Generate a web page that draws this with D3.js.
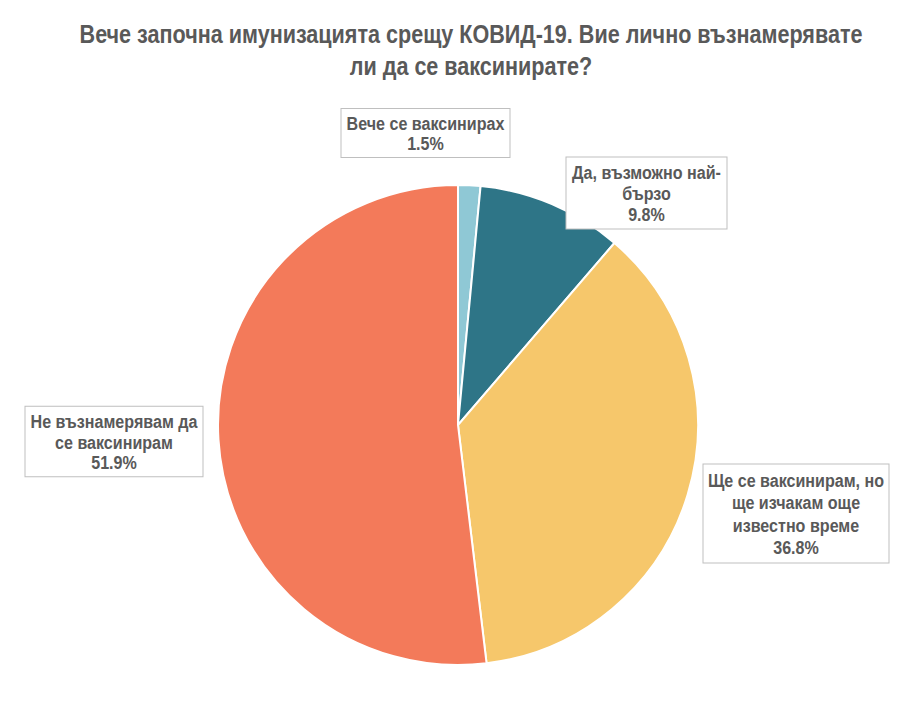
<!DOCTYPE html>
<html>
<head>
<meta charset="utf-8">
<script src="https://cdn.jsdelivr.net/npm/d3@7"></script>
<style>
	body {margin:0; background:#fff;}
	text {font-family:"Liberation Sans",Arial,sans-serif; font-weight:bold; fill:#595959;}
</style>
</head>
<body>
<div id="chart" style="width:923px;height:722px;"></div>
<script>
//data
const categories = ['Вече се ваксинирах', 'Да, възможно най-бързо', 'Ще се ваксинирам, но ще изчакам още известно време', 'Не възнамерявам да се ваксинирам'];
const values = [1.5, 9.8, 36.8, 51.9];
const labelLines = [
	['Вече се ваксинирах'],
	['Да, възможно най-', 'бързо'],
	['Ще се ваксинирам, но', 'ще изчакам още', 'известно време'],
	['Не възнамерявам да', 'се ваксинирам']
];
const colors = ['#8fc8d5', '#2e7587', '#f6c76b', '#f37a5a'];
const title = ['Вече започна имунизацията срещу КОВИД-19. Вие лично възнамерявате', 'ли да се ваксинирате?'];

//layout of the label boxes (centre x, centre y, width, line height)
const boxLayout = [
	{x:425.5, y:133, w:169, lh:20},
	{x:646.5, y:193, w:161, lh:21},
	{x:796, y:513.5, w:186, lh:22.5},
	{x:114, y:441.5, w:178, lh:20.5}
];

const W = 923, H = 722;
const cx = 458, cy = 425, r = 240;
const narrow = 0.83; //squeeze to look like a narrow face
const labelNarrow = 0.87;

const svg = d3.select('#chart')
	.append('svg')
	.attr('width', W)
	.attr('height', H);

//title
svg.append('g').attr('class','title')
	.attr('transform', `translate(471,0) scale(${narrow},1)`)
	.selectAll('text')
	.data(title)
	.enter()
	.append('text')
	.attr('x', 0)
	.attr('y', (d,i) => 43 + i*32)
	.attr('text-anchor','middle')
	.style('font-size','26px')
	.text(d => d);

//pie
const pie = d3.pie().sort(null).value(d => d);
const arc = d3.arc().innerRadius(0).outerRadius(r);

const plot = svg.append('g')
	.attr('class','plot')
	.attr('transform', `translate(${cx},${cy})`);

plot.selectAll('.slice')
	.data(pie(values))
	.enter()
	.append('path')
	.attr('class','slice')
	.attr('d', arc)
	.style('fill', (d,i) => colors[i])
	.style('stroke','#fff')
	.style('stroke-width', 2);

//labels
const labels = svg.selectAll('.label')
	.data(categories.map((c,i) => ({
		lines: labelLines[i].concat([d3.format('.1f')(values[i]) + '%']),
		box: boxLayout[i]
	})))
	.enter()
	.append('g')
	.attr('class','label')
	.attr('transform', d => `translate(${d.box.x},${d.box.y})`);

labels.append('rect')
	.attr('x', d => -d.box.w/2)
	.attr('y', d => -(d.lines.length*d.box.lh + 9)/2)
	.attr('width', d => d.box.w)
	.attr('height', d => d.lines.length*d.box.lh + 9)
	.style('fill','#fff')
	.style('stroke','#bfbfbf')
	.style('stroke-width',1);

labels.each(function(d){
	const n = d.lines.length;
	d3.select(this).append('g')
		.attr('transform', `scale(${labelNarrow},1)`)
		.selectAll('text')
		.data(d.lines)
		.enter()
		.append('text')
		.attr('text-anchor','middle')
		.attr('y', (l,i) => (i - (n-1)/2)*d.box.lh + 7)
		.style('font-size','18.5px')
		.text(l => l);
});
</script>
</body>
</html>
